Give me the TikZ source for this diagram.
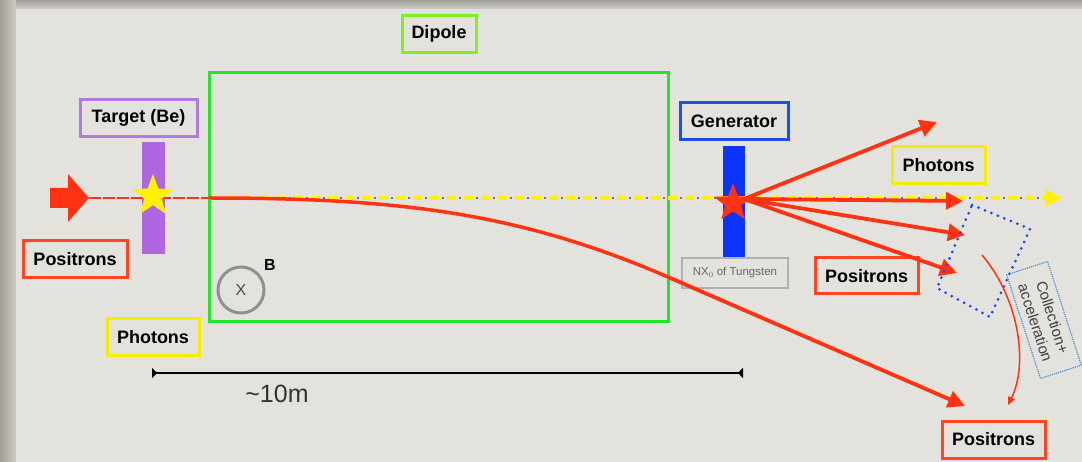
\documentclass[tikz,border=0pt]{standalone}
\usepackage{fontspec}
\setmainfont{Liberation Sans}
\usetikzlibrary{arrows.meta,shapes.geometric}
\definecolor{paper}{HTML}{E3E2DD}
\definecolor{frame}{HTML}{B3B1A7}
\definecolor{rd}{HTML}{FF3311}
\definecolor{rdbox}{HTML}{FF4422}
\definecolor{yl}{HTML}{FFF200}
\definecolor{ylbox}{HTML}{F8EC00}
\definecolor{lime}{HTML}{80F020}
\definecolor{grn}{HTML}{22E622}
\definecolor{purp}{HTML}{B066E0}
\definecolor{purpbox}{HTML}{B07BE0}
\definecolor{blu}{HTML}{0A35FF}
\definecolor{blubox}{HTML}{1F4DE8}
\definecolor{dotblu}{HTML}{1A44FF}
\definecolor{ltblu}{HTML}{4A90D0}
\definecolor{gry}{HTML}{8E9094}
\tikzset{
  lab/.style={draw, line width=3pt, font=\fontsize{18}{20}\selectfont\bfseries, minimum height=37pt, inner sep=0pt, text=black},
  ray/.style={rd, line width=3.8pt, -{Triangle[length=17pt,width=17pt]}},
}
\begin{document}
\begin{tikzpicture}[x=1pt,y=-1pt]
\useasboundingbox (0,0) rectangle (1082,462);
% paper and frame
\fill[frame] (0,0) rectangle (1082,462);
\shade[left color=frame!90!black, right color=paper!90!black] (0,0) rectangle (16,462);
\shade[top color=frame!90!black, bottom color=paper!90!black] (16,0) rectangle (1082,9);
\fill[paper] (16,9) rectangle (1082,462);

% dipole
\node[draw=grn, line width=3pt, minimum width=459pt, minimum height=249pt, inner sep=0pt] (dip) at (438.5,197.5) {};
\node[lab, draw=lime, minimum width=74pt] (diplab) at (439,34) {Dipole};

% target
\node[fill=purp, minimum width=23pt, minimum height=112pt, inner sep=0pt] (tbar) at (153.5,198) {};
\node[lab, draw=purpbox, minimum width=117pt] (tlab) at (138.5,118) {Target (Be)};

% generator
\node[fill=blu, minimum width=22pt, minimum height=111pt, inner sep=0pt] (gbar) at (734,201.5) {};
\node[lab, draw=blubox, minimum width=108pt] (glab) at (734,121) {Generator};
\node[draw=gry!70, line width=1.5pt, minimum width=106pt, minimum height=30pt, inner sep=0pt, text=black!60, font=\fontsize{11.5}{13}\selectfont] (nx) at (735,273) {NX$_0$ of Tungsten};

% labels
\node[lab, draw=rdbox, minimum width=104pt] (posL) at (75,259) {Positrons};
\node[lab, draw=ylbox, minimum width=92pt] (phoL) at (153,337.5) {Photons};
\node[lab, draw=ylbox, minimum width=93pt] (phoR) at (938.5,165) {Photons};
\node[lab, draw=rdbox, minimum width=103pt, minimum height=36pt] (posM) at (866.5,276) {Positrons};
\node[lab, draw=rdbox, minimum width=103pt] (posB) at (993.5,439.5) {Positrons};

% incoming block arrow
\fill[rd] (50,188) -- (68,188) -- (68,174) -- (89,198) -- (68,222) -- (68,208) -- (50,208) -- cycle;
\coordinate (beamstart) at (89,198);
\coordinate (dipin) at (209,198);
\draw[rd, line width=1.3pt, dash pattern=on 12pt off 2pt] (beamstart) -- (dipin);

% photon beam
\coordinate (yend) at (1062,198);
\draw[black!55, line width=1.5pt, dash pattern=on 1.5pt off 15.5pt, dash phase=5pt] (dipin) -- (1045,198);
\draw[yl, line width=4.5pt, dash pattern=on 9pt off 8pt] (dipin) -- (1046,198);
\fill[yl] (1045,189) -- (yend) -- (1045,207) -- cycle;

% deflected positron
\coordinate (dipout) at (668,277);
\coordinate (posend) at (965,406);
\draw[rd, line width=3.5pt] (dipin) .. controls (400,198) and (520,213) .. (dipout);
\draw[ray] (dipout) -- (posend);

% stars
\node[star, star points=5, star point ratio=2.4, fill=yl, minimum size=44pt, inner sep=0pt] (ystar) at (153,196) {};

% generator rays
\coordinate (g0) at (744,199);
\coordinate (r1) at (937,122);
\coordinate (r2) at (963,201);
\coordinate (r3) at (965,235);
\coordinate (r4) at (957,273);
\draw[ray] (g0) -- (r1);
\draw[ray] (g0) -- (r2);
\draw[ray] (g0) -- (r3);
\draw[ray] (g0) -- (r4);
\node[star, star points=5, star point ratio=2.4, fill=rd, minimum size=40pt, inner sep=0pt] (rstar) at (733,203) {};

% B field
\node[circle, draw=gry, line width=3pt, minimum size=46pt, inner sep=0pt, font=\fontsize{16}{18}\selectfont, text=black!70] (bcirc) at (241,290) {X};
\node[font=\fontsize{16}{18}\selectfont\bfseries] (blab) at (270,265) {B};

% scale
\coordinate (sL) at (152,373);
\coordinate (sR) at (743,373);
\draw[line width=2pt, {Triangle[reversed,length=5pt,width=10pt]}-{Triangle[reversed,length=5pt,width=10pt]}] (sL) -- (sR);
\node[font=\fontsize{25}{27}\selectfont, text=black!80] (scale) at (277,394) {\textasciitilde 10m};

% collection region
\draw[dotblu, line width=3pt, dash pattern=on 0pt off 7pt, line cap=round] (972,205) -- (1030,229) -- (990,317) -- (937,288) -- cycle;
\node[draw=ltblu, densely dotted, line width=1.2pt, rotate=-72, minimum width=109pt, minimum height=43pt, inner sep=0pt, align=center, text=black!75, font=\fontsize{15}{18}\selectfont] (coll) at (1044,320) {Collection+\\acceleration};
\coordinate (c1) at (982,255);
\coordinate (c2) at (1008,405);
\draw[rd, line width=1.5pt, -{Triangle[length=8pt,width=7pt]}] (c1) .. controls (1020,300) and (1028,365) .. (c2);
\end{tikzpicture}
\end{document}
